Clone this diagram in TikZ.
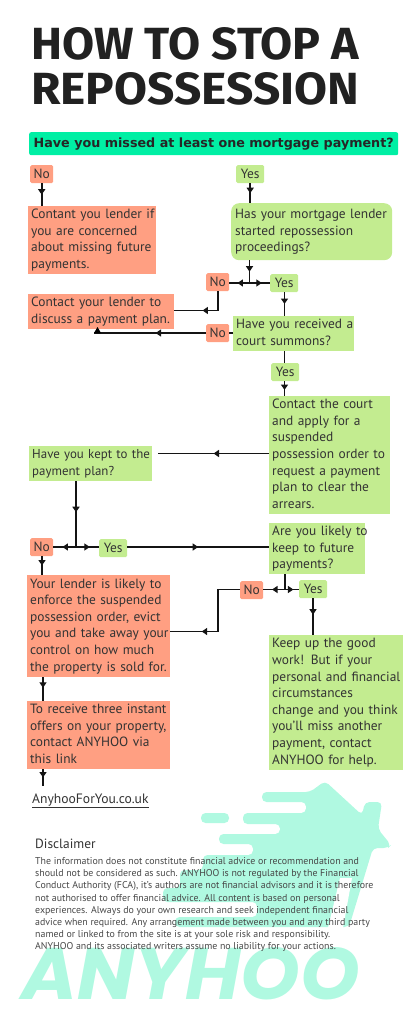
\documentclass[tikz,border=0pt]{standalone}
\usepackage{fontspec}
\usetikzlibrary{arrows.meta,decorations.markings,calc}
\setmainfont{PT Sans}
\newfontfamily\titlefont{Fira Sans}
\newfontfamily\headfont{DejaVu Sans}
\newfontfamily\logofont{Poppins}
\definecolor{orangebox}{HTML}{FF9F82}
\definecolor{greenbox}{HTML}{C3EC90}
\definecolor{headgreen}{HTML}{00EFA4}
\definecolor{mint}{HTML}{B0F9E1}
\definecolor{inktext}{HTML}{333333}
\newcommand{\tl}[1]{\begin{tabular}{@{}l@{}}#1\end{tabular}}
\tikzset{
  boxbase/.style={anchor=north west,align=left,inner xsep=3pt,inner ysep=0pt,text=inktext,
     font=\fontsize{13.4}{16.6}\selectfont},
  okbox/.style={boxbase,fill=greenbox},
  nobox/.style={boxbase,fill=orangebox},
  taglabel/.style={anchor=north west,rounded corners=1.5pt,inner sep=0pt,text=inktext,
     minimum height=18pt,align=center,font=\fontsize{13.4}{16}\selectfont},
  notag/.style={taglabel,fill=orangebox,minimum width=23pt},
  yestag/.style={taglabel,fill=greenbox,minimum width=28pt},
  conn/.style={line width=1.8pt,draw=black!92},
  flow/.style={conn,postaction={decorate},decoration={markings,
     mark=at position #1 with {\arrow{Triangle[length=5.5pt,width=7pt]}}}},
  flow/.default=0.5,
}
\begin{document}
\begin{tikzpicture}[x=1pt,y=-1pt]
\useasboundingbox (0,0) rectangle (410,1024);
% logo
\fill[mint,rounded corners=4.5pt] (325,781) -- (362,815) -- (365,802) -- (382,802) -- (378,829)
  -- (391,845) -- (388,848) -- (373,848) -- (349,927) -- (175,927) -- (175,917) -- (257,917)
  -- (257,902) -- (163,902) -- (163,888) -- (180,888) -- (180,870) -- (203,870) -- (203,855)
  -- (253,855) -- (253,844) -- (219,844) -- (219,834) -- (280,834) -- (280,824) -- (243,824)
  -- (243,813) -- (306,813) -- (306,802) -- (262,802) -- (262,792) -- (310,792) -- cycle;
\fill[mint,rounded corners=4.5pt] (201,813) rectangle (229,823);
\fill[white] (340,878) -- (352,878) -- (343,928) -- (328,928) -- cycle;
\node[anchor=base west,inner sep=0pt,text=mint] (logo) at (21,999)
  {\resizebox{339pt}{52pt}{\logofont\fontsize{73}{73}\selectfont\bfseries\itshape ANYHOO}};
% title
\node[anchor=base west,inner sep=0pt,text=black!87] (t1) at (31,59.5)
  {\resizebox{328pt}{32pt}{\titlefont\fontsize{44}{44}\selectfont\bfseries HOW TO STOP A}};
\node[anchor=base west,inner sep=0pt,text=black!87] (t2) at (31,105)
  {\resizebox{328pt}{32pt}{\titlefont\fontsize{44}{44}\selectfont\bfseries REPOSSESSION}};
% header
\node[anchor=north west,fill=headgreen,rounded corners=2pt,minimum width=369pt,minimum height=23pt,
   inner sep=0pt,text=black!85] (head) at (29,132)
  {\resizebox{360pt}{!}{\headfont\fontsize{14}{14}\selectfont\bfseries Have you missed at least one mortgage payment?}};
% boxes
\node[notag] (no1) at (30,165) {No};
\node[yestag] (yes1) at (236,165) {Yes};
\node[nobox,text width=122pt,minimum height=68pt] (contant) at (28,206)
  {\tl{Contant you lender if\\you are concerned\\about missing future\\payments.}};
\node[okbox,text width=153pt,inner xsep=4pt,minimum height=57pt,rounded corners=8pt] (has) at (231,203)
  {\tl{Has your mortgage lender\\started repossession\\proceedings?}};
\node[notag] (no2) at (206,273) {No};
\node[yestag] (yes2) at (270,274) {Yes};
\node[nobox,text width=140pt,minimum height=35pt] (plan) at (28,294)
  {\tl{Contact your lender to\\discuss a payment plan.}};
\node[notag] (no3) at (206,324) {No};
\node[okbox,text width=115pt,minimum height=35pt] (summons) at (233,316)
  {\tl{Have you received a\\court summons?}};
\node[yestag] (yes3) at (271,363) {Yes};
\node[okbox,text width=115pt,minimum height=118pt] (court) at (269,396)
  {\tl{Contact the court\\and apply for a\\suspended\\possession order to\\request a payment\\plan to clear the\\arrears.}};
\node[okbox,text width=117pt,minimum height=35pt,font=\fontsize{12.9}{16.6}\selectfont] (kept) at (29,446)
  {\tl{Have you kept to the\\payment plan?}};
\node[notag] (no4) at (30,538) {No};
\node[yestag] (yes4) at (99,539) {Yes};
\node[okbox,text width=90pt,minimum height=51pt] (likely) at (269,523)
  {\tl{Are you likely to\\keep to future\\payments?}};
\node[notag] (no5) at (240,581) {No};
\node[yestag] (yes5) at (299,580) {Yes};
\node[nobox,text width=137pt,minimum height=102pt] (enforce) at (27,575)
  {\tl{Your lender is likely to\\enforce the suspended\\possession order, evict\\you and take away your\\control on how much\\the property is sold for.}};
\node[okbox,text width=128pt,minimum height=135pt] (good) at (269,635)
  {\tl{Keep up the good\\work! But if your\\personal and financial\\circumstances\\change and you think\\you'll miss another\\payment, contact\\ANYHOO for help.}};
\node[nobox,text width=137pt,minimum height=68pt] (offers) at (27,701)
  {\tl{To receive three instant\\offers on your property,\\contact ANYHOO via\\this link}};
\node[anchor=base west,inner sep=0pt,text=inktext,font=\fontsize{13.6}{16}\selectfont] (link) at (32,803)
  {\underline{AnyhooForYou.co.uk}};
\node[anchor=base west,inner sep=0pt,text=inktext,font=\fontsize{13.4}{16}\selectfont] (disc) at (35,848) {Disclaimer};
\node[anchor=north west,inner sep=0pt,align=left,text=black!72,font=\fontsize{9.9}{12.1}\selectfont] (disctext) at (35,857.5)
  {The information does not constitute financial advice or recommendation and\\
   should not be considered as such. ANYHOO is not regulated by the Financial\\
   Conduct Authority (FCA), it's authors are not financial advisors and it is therefore\\
   not authorised to offer financial advice. All content is based on personal\\
   experiences. Always do your own research and seek independent financial\\
   advice when required. Any arrangement made between you and any third party\\
   named or linked to from the site is at your sole risk and responsibility.\\
   ANYHOO and its associated writers assume no liability for your actions.};
% junctions and free ends
\coordinate (j1) at (249.5,283);
\coordinate (j2) at (76,547);
\coordinate (j3) at (285,589.5);
\coordinate (b1) at (217,310.5);
\coordinate (b2) at (218,631.5);
\coordinate (upend) at (94,333);
\coordinate (gapend) at (158,453.5);
\coordinate (linkend) at (43,786);
% connectors
\draw[flow] (no1.south) -- (no1.south |- contant.north);
\draw[flow] (yes1.south) -- (yes1.south |- has.north);
\draw[flow] (j1 |- has.south) -- (j1);
\draw[flow=0.6] (j1) -- (j1 -| no2.east);
\draw[flow=0.6] (j1) -- (j1 -| yes2.west);
\draw[flow] (284.5,292) -- (284.5,316);
\draw[flow=0.55] (no2.south) |- (b1) -- (b1 -| plan.east);
\draw[conn] (summons.west |- upend) -- (no3.east |- upend);
\draw[flow=0.45] (no3.west |- upend) -- (upend);
\fill[black] (94,333) -- (101,333) -- (97.5,327) -- cycle;
\draw[conn] (284.5,351) -- (284.5,363);
\draw[flow=0.6] (284.5,381) -- (284.5,396);
\draw[flow] (court.west |- gapend) -- (gapend);
\draw[flow=0.47] (j2 |- kept.south) -- (j2);
\draw[flow=0.6] (j2) -- (j2 -| no4.east);
\draw[flow=0.6] (j2) -- (j2 -| yes4.west);
\draw[flow] (yes4.east |- j2) -- (likely.west |- j2);
\draw[flow] (42,556) -- (42,575);
\draw[conn] (j3 |- likely.south) -- (j3);
\draw[flow=0.6] (j3) -- (j3 -| no5.east);
\draw[flow=0.6] (j3) -- (j3 -| yes5.west);
\draw[flow=0.45] (313,598) -- (313,635);
\draw[flow=0.72] (no5.west |- j3) -| (b2) -- (b2 -| enforce.east);
\draw[flow=0.45] (43,677) -- (43,701);
\draw[flow=0.5] (43,769) -- (linkend);
\end{tikzpicture}
\end{document}
